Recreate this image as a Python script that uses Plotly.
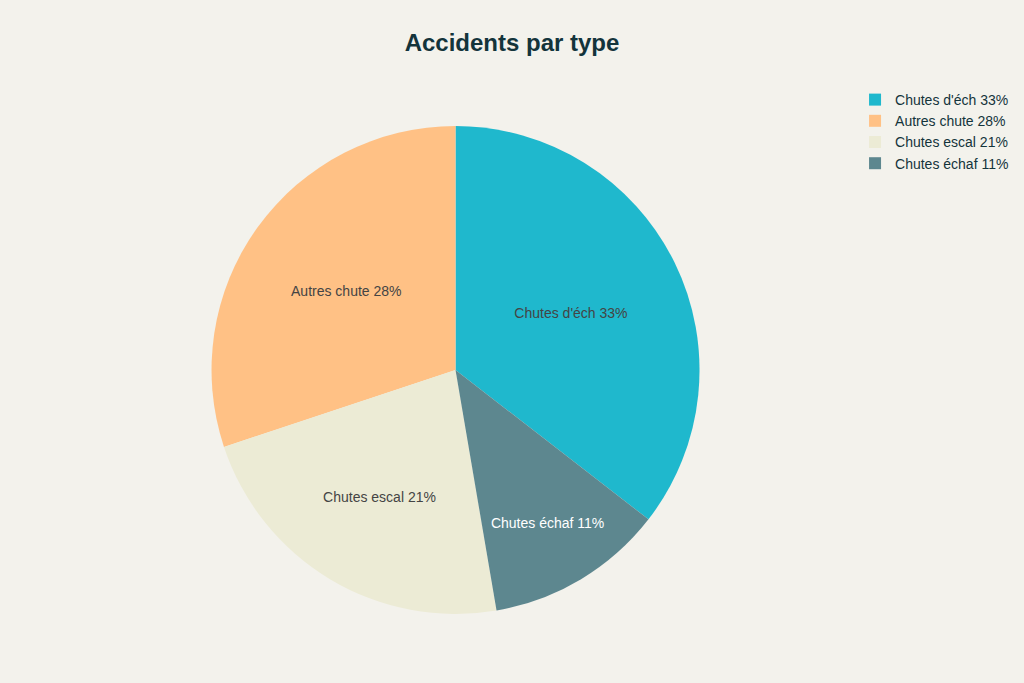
import plotly.graph_objects as go

labels = ["Chutes d'éch 33%", "Autres chute 28%", "Chutes escal 21%", "Chutes échaf 11%"]
values = [33, 28, 21, 11]
colors = ["#1FB8CD", "#FFC185", "#ECEBD5", "#5D878F"]

fig = go.Figure(go.Pie(
    labels=labels,
    values=values,
    marker=dict(colors=colors),
    textinfo="label",
    textposition="inside",
    insidetextorientation="horizontal",
    sort=False,
    direction="counterclockwise",
    rotation=0,
    textfont=dict(size=14),
))

fig.update_layout(
    title=dict(text="<b>Accidents par type</b>", x=0.5, xanchor="center",
               y=0.937, yanchor="middle", yref="container",
               font=dict(size=24, color="#13343B")),
    font=dict(family="Liberation Sans, Arial, sans-serif", color="#13343B", size=14),
    paper_bgcolor="#F3F2EC",
    plot_bgcolor="#F3F2EC",
    width=1024, height=683,
    margin=dict(l=56, r=162, t=126, b=69),
    legend=dict(xref="container", yref="container", x=0.835, y=0.877,
                xanchor="left", yanchor="top", font=dict(size=14)),
)

fig.write_html(
    "out.html",
    config={"displayModeBar": False},
    post_script="document.body.style.margin='0';document.body.style.overflow='hidden';",
)
